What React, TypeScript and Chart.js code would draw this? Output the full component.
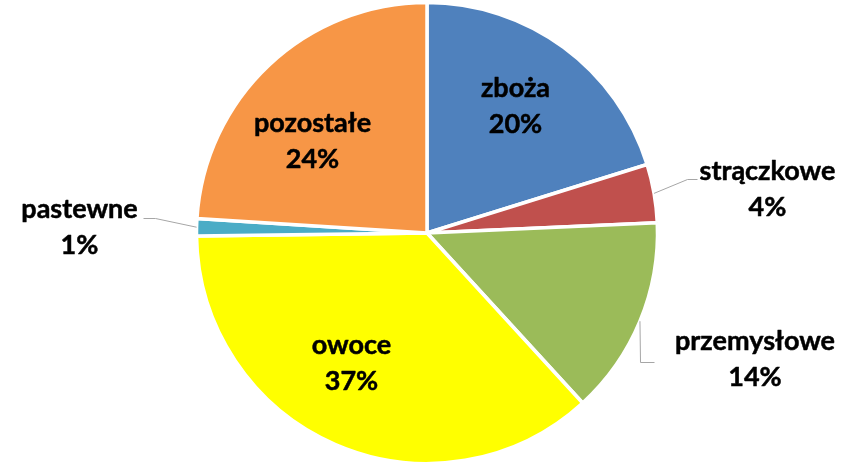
import React, { useEffect, useRef } from 'react';
import { Chart, registerables } from 'chart.js';

Chart.register(...registerables);

const categories = ['zboża', 'strączkowe', 'przemysłowe', 'owoce', 'pastewne', 'pozostałe'];
const shares = [20.2, 4.1, 13.9, 36.6, 1.2, 24.0];
const percentLabels = ['20%', '4%', '14%', '37%', '1%', '24%'];
const sliceColors = ['#4F81BD', '#C0504D', '#9BBB59', '#FFFF00', '#4BACC6', '#F79646'];

// Label placement relative to the pie centre (first-line baseline centre) and leader-line elbows
const labelLayout: { dx: number; dy: number; leader?: number[][] }[] = [
  { dx: 88.5, dy: -136 },
  { dx: 340.5, dy: -53, leader: [[260, -54], [270, -54]] },
  { dx: 328, dy: 117, leader: [[213, 129], [227, 129]] },
  { dx: -75.5, dy: 121 },
  { dx: -347.5, dy: -15, leader: [[-272, -15], [-284, -15]] },
  { dx: -114.5, dy: -101.5 },
];

const LABEL_FONT = 'bold 27px Lato';
const LINE_GAP = 36;

const labelPlugin = {
  id: 'sliceLabels',
  afterDatasetsDraw(chart: any) {
    const ctx = chart.ctx as CanvasRenderingContext2D;
    const meta = chart.getDatasetMeta(0);
    ctx.save();
    meta.data.forEach((arc: any, i: number) => {
      const p = arc.getProps(['x', 'y', 'startAngle', 'endAngle', 'outerRadius'], true);
      const cx = p.x;
      const cy = p.y;
      const lay = labelLayout[i];
      if (lay.leader) {
        const mid = (p.startAngle + p.endAngle) / 2;
        const r = p.outerRadius;
        ctx.beginPath();
        ctx.strokeStyle = '#A6A6A6';
        ctx.lineWidth = 1;
        ctx.moveTo(cx + Math.cos(mid) * r, cy + Math.sin(mid) * r);
        lay.leader.forEach((pt) => ctx.lineTo(cx + pt[0] + 0.5, cy + pt[1] + 0.5));
        ctx.stroke();
      }
      ctx.fillStyle = '#000000';
      ctx.strokeStyle = '#000000';
      ctx.lineWidth = 0.5;
      ctx.lineJoin = 'round';
      ctx.font = LABEL_FONT;
      ctx.textAlign = 'center';
      ctx.textBaseline = 'alphabetic';
      const x = cx + lay.dx;
      const y = cy + lay.dy;
      ctx.fillText(categories[i], x, y);
      ctx.strokeText(categories[i], x, y);
      ctx.fillText(percentLabels[i], x, y + LINE_GAP);
      ctx.strokeText(percentLabels[i], x, y + LINE_GAP);
    });
    ctx.restore();
  },
};

export default function App() {
  const canvasRef = useRef<HTMLCanvasElement | null>(null);

  useEffect(() => {
    if (!canvasRef.current) return;
    const chart = new Chart(canvasRef.current, {
      type: 'pie',
      data: {
        labels: categories,
        datasets: [
          {
            data: shares,
            backgroundColor: sliceColors,
            borderColor: '#FFFFFF',
            borderWidth: 3.5,
            radius: 230.5,
          } as any,
        ],
      },
      options: {
        responsive: false,
        animation: false,
        layout: { padding: { left: 4, top: 4 } },
        plugins: {
          legend: { display: false },
          tooltip: { enabled: false },
        },
      },
      plugins: [labelPlugin],
    });
    return () => chart.destroy();
  }, []);

  return (
    <div style={{ position: 'fixed', left: 0, top: 0, width: 850, height: 462, background: '#FFFFFF' }}>
      <canvas ref={canvasRef} width={850} height={462} style={{ display: 'block' }} />
    </div>
  );
}
